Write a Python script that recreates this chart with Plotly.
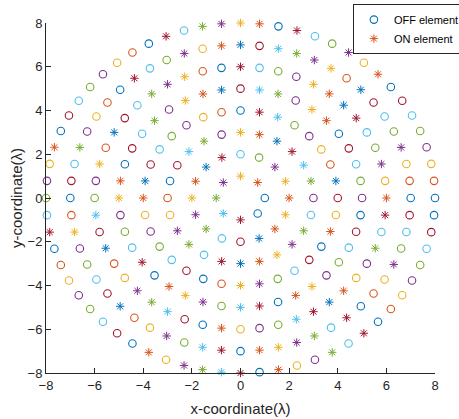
import numpy as np
import plotly.graph_objects as go

# ring radii (in wavelengths) and number of elements per ring
ring_radius = [1, 2, 3, 4, 5, 6, 7, 8]
ring_count = [8, 16, 24, 32, 40, 48, 56, 64]

# element states per ring, counter-clockwise from angle 0 (1 = ON, 0 = OFF)
ring1_on = [0,1,1,1,1,1,1,0]
ring2_on = [1,1,1,0,0,1,1,1,1,1,1,0,0,1,1,1]
ring3_on = [0,1,1,1,1,1,1,0,1,1,0,0,0,0,1,1,0,1,1,1,1,1,1,0]
ring4_on = [0,1,0,0,0,0,1,1,0,0,0,0,0,0,0,1,1,0,0,0,0,0,0,0,1,1,0,0,0,0,1,0]
ring5_on = [0,0,0,0,0, 1,1,0,1,1, 0,1,1,1,0, 1,0,0,0,1,
            1,0,0,0,1, 0,1,1,1,0, 1,1,0,1,1, 0,0,0,0,0]
ring6_on = [1,0,1,0,0,1, 1,1,1,0,0,0, 1,0,0,1,1,1, 0,0,1,0,1,0,
            0,1,0,1,0,0, 1,1,1,0,0,1, 0,0,0,1,1,1, 1,0,0,1,0,1]
ring7_on = [0,0,0,1,0,0,0, 1,0,1,1,1,1,0, 1,1,0,1,0,0,1, 0,0,0,0,1,0,0,
            0,0,1,0,0,0,0, 1,0,0,1,0,1,1, 0,1,1,1,1,0,1, 0,0,0,1,0,0,0]
ring8_on = [0,0,0,0,0,0,0,0, 1,0,1,0,0,1,0,1, 1,1,1,0,1,0,0,0, 0,0,0,0,0,1,0,0,
            0,0,1,0,0,0,0,0, 0,0,0,1,0,1,1,1, 1,0,1,0,0,1,0,1, 0,0,0,0,0,0,0,0]
rings_on = [ring1_on, ring2_on, ring3_on, ring4_on, ring5_on, ring6_on, ring7_on, ring8_on]

# MATLAB default colour order (each element plotted separately -> colour cycles)
color_order = ['#0072BD', '#D95319', '#EDB120', '#7E2F8E', '#77AC30', '#4DBEEE', '#A2142F']

off_x, off_y, off_c = [], [], []
on_x, on_y, on_c = [], [], []
idx = 0
for r, n, states in zip(ring_radius, ring_count, rings_on):
    for k in range(n):
        th = 2 * np.pi * k / n
        x, y = r * np.cos(th), r * np.sin(th)
        c = color_order[idx % 7]
        if states[k]:
            on_x.append(x); on_y.append(y); on_c.append(c)
        else:
            off_x.append(x); off_y.append(y); off_c.append(c)
        idx += 1

fig = go.Figure()
fig.add_trace(go.Scatter(
    x=off_x, y=off_y, mode='markers', name='OFF element', cliponaxis=False,
    marker=dict(symbol='circle-open', size=7.5, color=off_c, line=dict(width=1.1))))
fig.add_trace(go.Scatter(
    x=on_x, y=on_y, mode='markers', name='ON element', cliponaxis=False,
    marker=dict(symbol='asterisk-open', size=7, color=on_c, line=dict(width=1, color=on_c))))

axcol = '#262626'
tickvals = [-8, -6, -4, -2, 0, 2, 4, 6, 8]
common = dict(range=[-8, 8], tickvals=tickvals, showgrid=False, zeroline=False,
              showline=True, linecolor=axcol, linewidth=1, ticks='inside', ticklen=5,
              tickcolor=axcol, tickfont=dict(family='Liberation Sans, Arial', size=13, color=axcol),
              mirror=False, automargin=False)
fig.update_xaxes(**common, title=dict(text='x-coordinate(λ)', standoff=11,
                 font=dict(family='Liberation Sans, Arial', size=15, color=axcol)))
fig.update_yaxes(**common, title=dict(text='y-coordinate(λ)', standoff=1,
                 font=dict(family='Liberation Sans, Arial', size=15, color=axcol)))

fig.update_layout(
    width=459, height=419,
    margin=dict(l=46, r=24, t=23, b=46, autoexpand=False),
    paper_bgcolor='white', plot_bgcolor='white',
    showlegend=True,
    legend=dict(x=0.789, y=1.054, xanchor='left', yanchor='top',
                bordercolor=axcol, borderwidth=1, bgcolor='white',
                font=dict(family='Liberation Sans, Arial', size=11, color='#000000'),
                tracegroupgap=0),
)
fig.write_html('out.html', config={'displayModeBar': False},
               post_script="document.body.style.margin='0';")
